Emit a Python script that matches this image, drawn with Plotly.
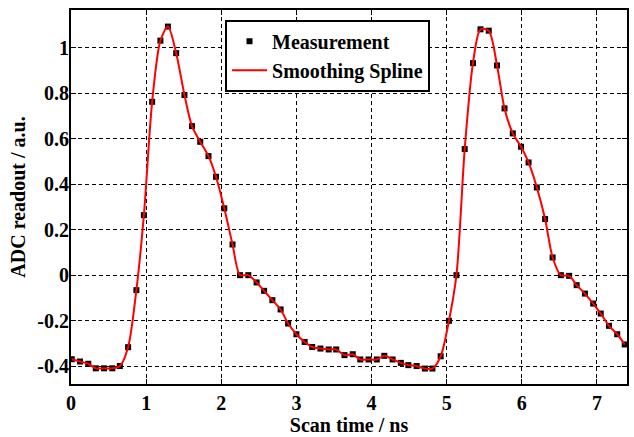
import plotly.graph_objects as go

scan_time_ns = [0.01, 0.12, 0.23, 0.33, 0.44, 0.55, 0.65, 0.76, 0.87, 0.97,
                1.08, 1.19, 1.29, 1.40, 1.51, 1.61, 1.72, 1.83, 1.93, 2.04,
                2.15, 2.25, 2.36, 2.47, 2.57, 2.68, 2.79, 2.89, 3.00, 3.11,
                3.21, 3.32, 3.43, 3.53, 3.64, 3.75, 3.85, 3.96, 4.07, 4.17,
                4.28, 4.39, 4.49, 4.60, 4.71, 4.81, 4.92, 5.03, 5.13, 5.24,
                5.35, 5.45, 5.56, 5.67, 5.77, 5.88, 5.99, 6.09, 6.20, 6.31,
                6.41, 6.52, 6.63, 6.73, 6.84, 6.95, 7.05, 7.16, 7.27, 7.37]

adc_readout = [-0.370, -0.380, -0.390, -0.410, -0.410, -0.410, -0.400, -0.317, -0.066, 0.264,
               0.763, 1.032, 1.094, 0.977, 0.793, 0.656, 0.587, 0.524, 0.433, 0.294,
               0.135, 0.000, 0.000, -0.032, -0.069, -0.110, -0.151, -0.213, -0.260, -0.294,
               -0.316, -0.323, -0.327, -0.327, -0.352, -0.348, -0.371, -0.371, -0.371, -0.355,
               -0.371, -0.386, -0.396, -0.400, -0.411, -0.411, -0.357, -0.201, 0.000, 0.555,
               0.933, 1.082, 1.076, 0.923, 0.734, 0.624, 0.565, 0.496, 0.386, 0.247,
               0.078, 0.000, -0.003, -0.044, -0.081, -0.125, -0.169, -0.223, -0.260, -0.305]

x_ticks = [0, 1, 2, 3, 4, 5, 6, 7]
y_ticks = [-0.4, -0.2, 0, 0.2, 0.4, 0.6, 0.8, 1]
y_tick_labels = ["-0.4", "-0.2", "0", "0.2", "0.4", "0.6", "0.8", "1"]

FONT = "Liberation Serif"

fig = go.Figure()
fig.add_trace(go.Scatter(
    x=scan_time_ns, y=adc_readout, mode="markers", name="Measurement",
    marker=dict(symbol="square", size=6, color="black"),
))
fig.add_trace(go.Scatter(
    x=scan_time_ns, y=adc_readout, mode="lines", name="Smoothing Spline",
    line=dict(color="#ff0000", width=2, shape="spline", smoothing=0.8),
))

axis_common = dict(
    showline=True, linecolor="black", linewidth=2, mirror="allticks",
    ticks="inside", ticklen=5, tickwidth=1, tickcolor="black",
    showgrid=True, gridcolor="black", gridwidth=1, griddash="4px,3px",
    zeroline=False,
    tickfont=dict(family=FONT, size=20, color="black", weight="bold"),
)

fig.update_layout(
    width=634, height=437,
    margin=dict(l=71, r=5, t=10, b=53),
    paper_bgcolor="white", plot_bgcolor="white",
    font=dict(family=FONT, color="black"),
    showlegend=True,
    legend=dict(
        x=0.277, y=0.974, xanchor="left", yanchor="top",
        bgcolor="white", bordercolor="black", borderwidth=2,
        font=dict(family=FONT, size=20, color="black", weight="bold"),
        tracegroupgap=0, itemwidth=35,
    ),
    xaxis=dict(
        range=[0, 7.4], tickvals=x_ticks,
        title=dict(text="Scan time / ns", standoff=0,
                   font=dict(family=FONT, size=20, color="black", weight="bold")),
        **axis_common,
    ),
    yaxis=dict(
        range=[-0.479, 1.167], tickvals=y_ticks, ticktext=y_tick_labels,
        ticklabelstandoff=-4,
        title=dict(text="ADC readout / a.u.", standoff=6,
                   font=dict(family=FONT, size=20, color="black", weight="bold")),
        **axis_common,
    ),
)

fig.write_html("out.html")
